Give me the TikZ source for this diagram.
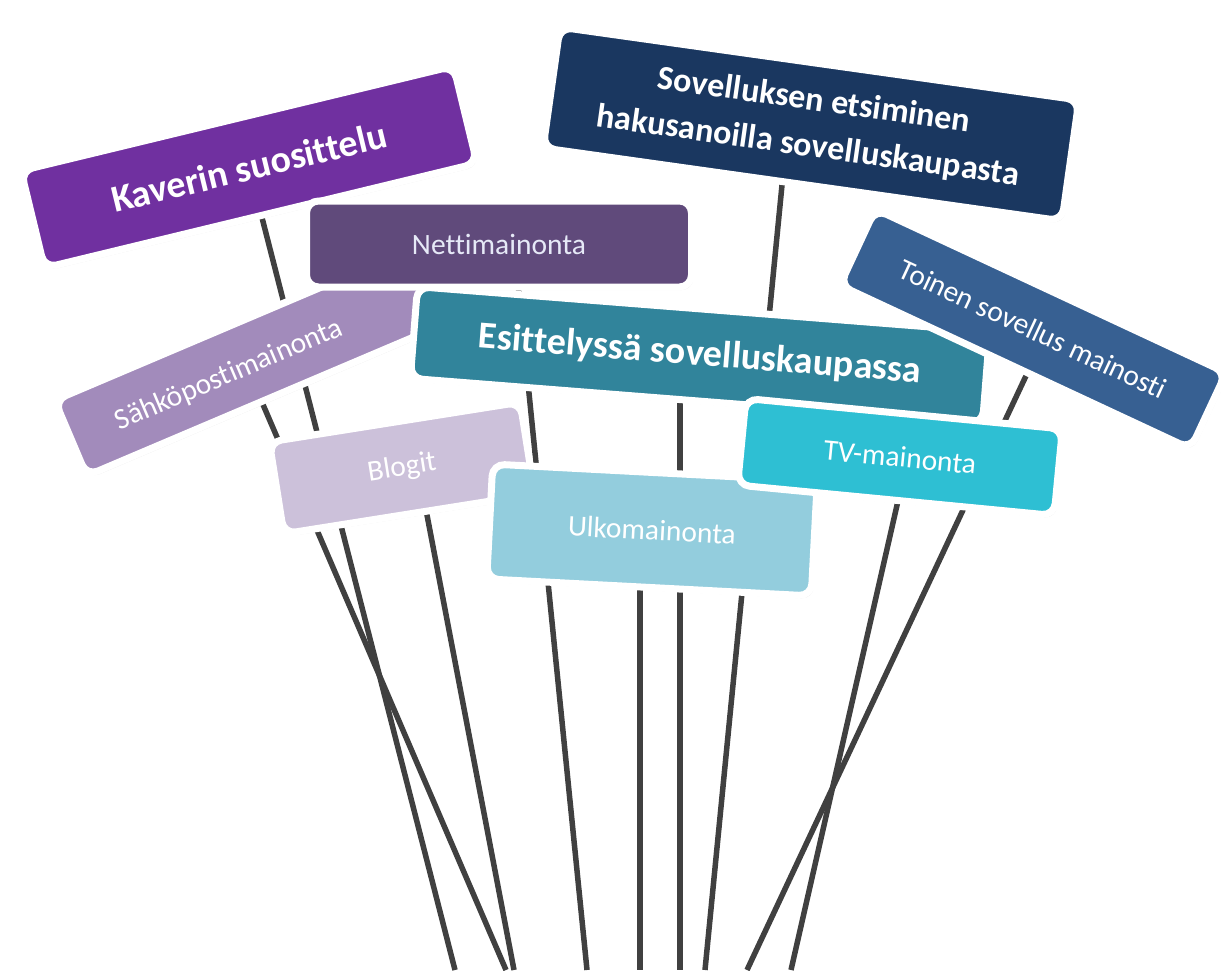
\documentclass[tikz,border=0pt]{standalone}
\usepackage{fontspec}
\setmainfont{Carlito}[Ligatures=NoCommon]
\usetikzlibrary{shadows}
\definecolor{cKav}{HTML}{7030A0}
\definecolor{cSov}{HTML}{1A3760}
\definecolor{cNet}{HTML}{604A7B}
\definecolor{cSah}{HTML}{A28BBB}
\definecolor{cEsi}{HTML}{31849B}
\definecolor{cToi}{HTML}{376092}
\definecolor{cBlo}{HTML}{CCC1DA}
\definecolor{cUlk}{HTML}{93CDDD}
\definecolor{cTV}{HTML}{2EBFD3}
\definecolor{cStick}{HTML}{404040}
\definecolor{cNetText}{HTML}{E6E9F7}
\pgfdeclarelayer{sticks}
\pgfsetlayers{sticks,main}
\begin{document}
\begin{tikzpicture}[x=1pt,y=-1pt,
  sign/.style={draw=white, line width=7pt, rounded corners=12pt, inner sep=0pt,
    align=center, text=white, font=\fontsize{29.5}{36}\selectfont,
    drop shadow={opacity=0.18, shadow xshift=2pt, shadow yshift=-3pt}},
  boldsign/.style={sign, font=\bfseries\fontsize{38}{46}\selectfont},
  signtext/.style={inner sep=0pt, text=white, font=\fontsize{29.5}{36}\selectfont},
  stick/.style={draw=cStick, line width=5.5pt}]
\useasboundingbox (0,0) rectangle (1221,970);

% signs, back to front
\node[boldsign, fill=cKav, minimum width=445pt, minimum height=100pt, rotate=13.6]
  (kav) at (249,167) {Kaverin suosittelu};
\node[boldsign, fill=cSov, minimum width=524pt, minimum height=122pt, rotate=-8,
  font=\bfseries\fontsize{34}{46}\selectfont]
  (sov) at (811,124) {Sovelluksen etsiminen\\hakusanoilla sovelluskaupasta};
\node[sign, fill=cSah, minimum width=420pt, minimum height=82pt, rotate=23]
  (sah) at (264,356) {};
\node[signtext, rotate=23] (sahT) at (229,375) {Sähköpostimainonta};
\node[boldsign, fill=cEsi, minimum width=574pt, minimum height=92pt, rotate=-4.5]
  (esi) at (700,355) {Esittelyssä sovelluskaupassa};
\node[sign, fill=cNet, text=cNetText, minimum width=385pt, minimum height=86pt]
  (net) at (499,244) {Nettimainonta};
\node[sign, fill=cToi, minimum width=387pt, minimum height=84pt, rotate=-25]
  (toi) at (1033,329) {Toinen sovellus mainosti};
\node[sign, fill=cBlo, minimum width=254pt, minimum height=93pt, rotate=9]
  (blo) at (402,468) {Blogit};
\node[sign, fill=cUlk, minimum width=325pt, minimum height=115pt, rotate=-3]
  (ulk) at (652,530) {Ulkomainonta};
\node[sign, fill=cTV, minimum width=318pt, minimum height=87pt, rotate=-5.5]
  (tv) at (900,457) {TV-mainonta};

% stick ends at the bottom edge
\coordinate (kavB) at (455,970);
\coordinate (sahB) at (506,970);
\coordinate (bloB) at (514,970);
\coordinate (netB) at (587,970);
\coordinate (ulkB) at (640,970);
\coordinate (esiB) at (680,970);
\coordinate (sovB) at (705,970);
\coordinate (toiB) at (747,970);
\coordinate (tvB) at (791,970);

\begin{pgfonlayer}{sticks}
\draw[stick] (kav.center) -- (kavB);
\draw[stick] ([xshift=-15pt,yshift=-16pt]sah.center) -- (sahB);
\draw[stick] ([xshift=16pt]blo.center) -- (bloB);
\draw[stick] ([xshift=15pt]net.center) -- (netB);
\draw[stick] ([xshift=-12pt]ulk.center) -- (ulkB);
\draw[stick] ([xshift=-20pt]esi.center) -- (esiB);
\draw[stick] ([xshift=-23pt]sov.center) -- (sovB);
\draw[stick] ([xshift=15pt]toi.center) -- (toiB);
\draw[stick] ([xshift=8pt]tv.center) -- (tvB);
\end{pgfonlayer}
\end{tikzpicture}
\end{document}
